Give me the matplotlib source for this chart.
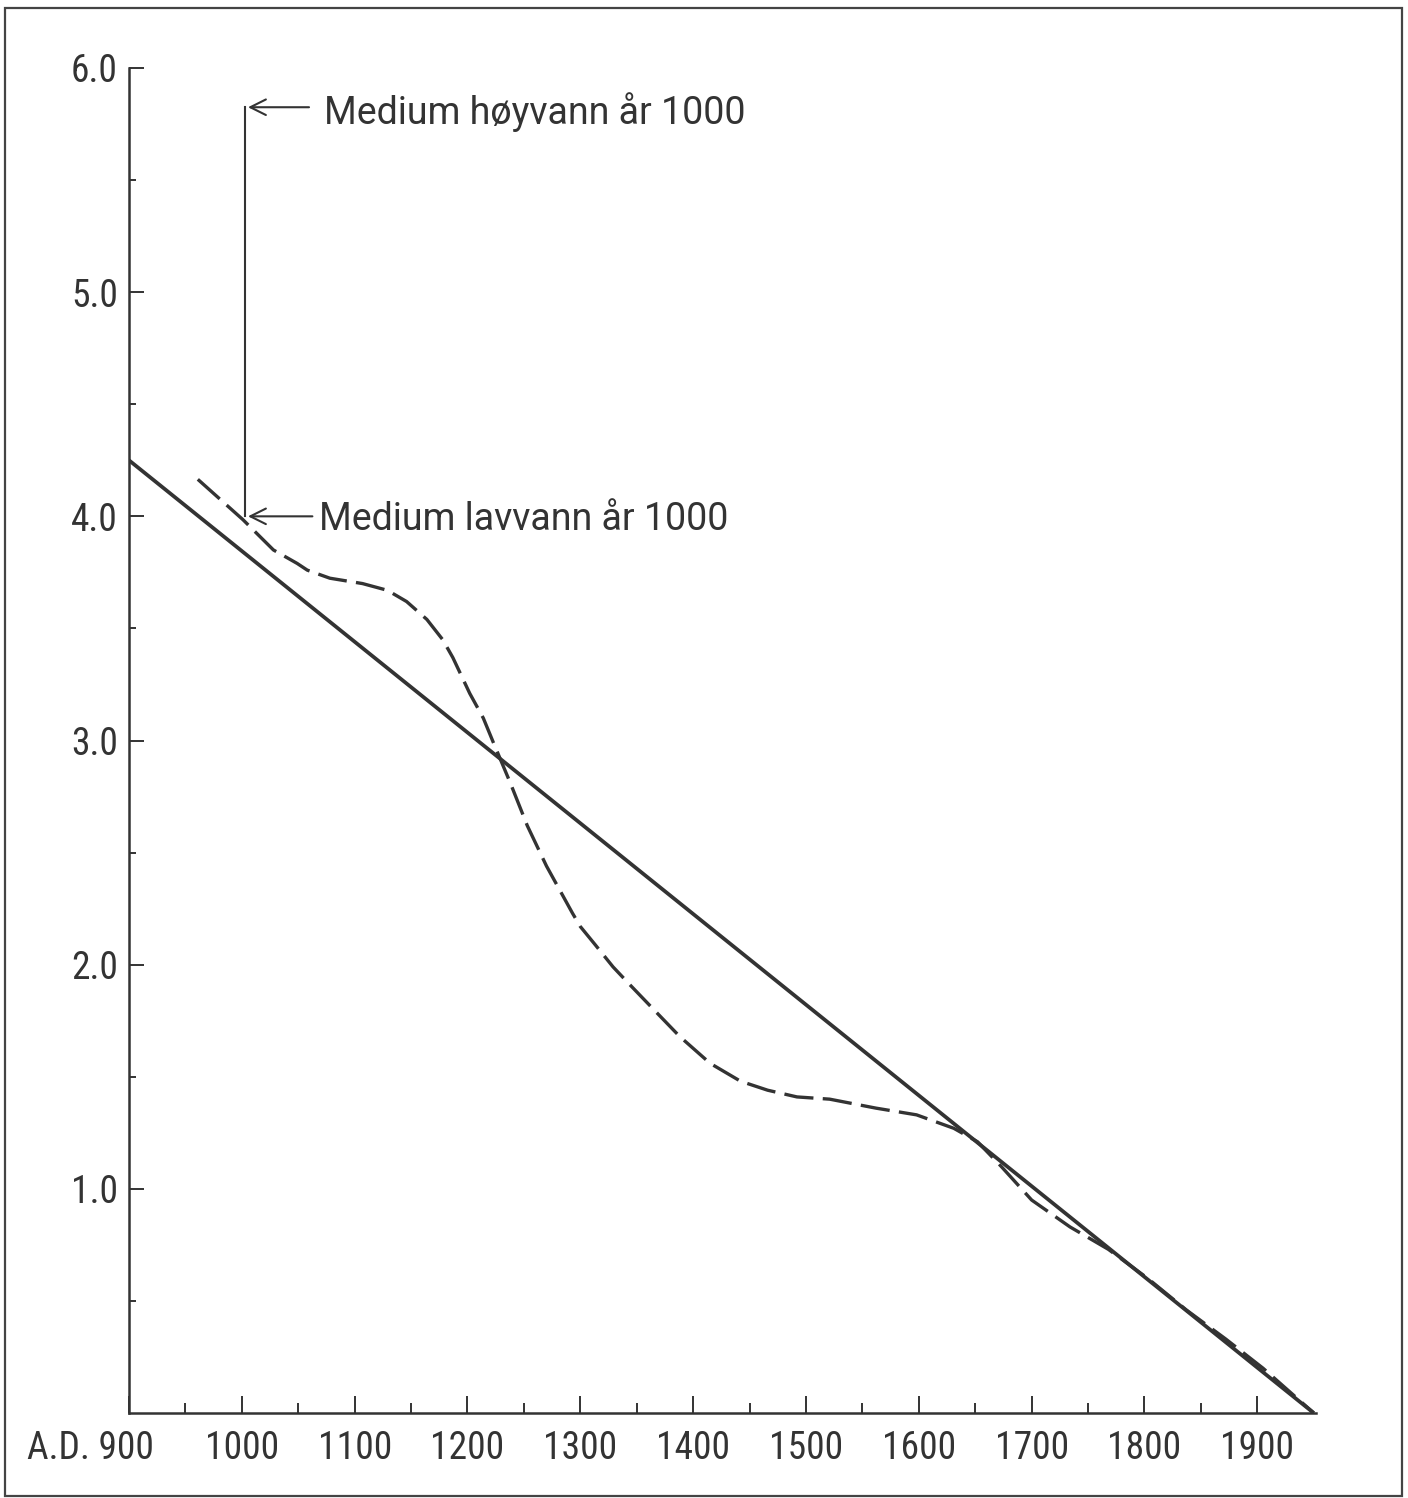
import matplotlib
matplotlib.use('Agg')
import matplotlib.pyplot as plt
import matplotlib.patches as patches

# values
trend_years = [900, 1950]
trend_level = [4.25, 0.0]

curve_years = [961, 1001, 1028, 1049, 1058, 1078, 1107, 1129, 1146, 1164, 1178,
               1187, 1202, 1214, 1223, 1238, 1253, 1270, 1293, 1300, 1313, 1329,
               1344, 1365, 1388, 1415, 1442, 1466, 1492, 1521, 1562, 1598, 1631,
               1652, 1673, 1700, 1734, 1768, 1803, 1837, 1872, 1905, 1950]
curve_level = [4.165, 3.985, 3.85, 3.79, 3.76, 3.724, 3.70, 3.67, 3.62, 3.54, 3.45,
               3.37, 3.21, 3.10, 2.99, 2.81, 2.62, 2.44, 2.23, 2.17, 2.09, 1.99,
               1.91, 1.80, 1.68, 1.56, 1.48, 1.44, 1.41, 1.40, 1.36, 1.33, 1.27,
               1.21, 1.10, 0.95, 0.83, 0.73, 0.60, 0.46, 0.33, 0.20, 0.0]

x_major = [900, 1000, 1100, 1200, 1300, 1400, 1500, 1600, 1700, 1800, 1900]
x_labels = ['', '1000', '1100', '1200', '1300', '1400', '1500', '1600', '1700', '1800', '1900']
y_major = [1.0, 2.0, 3.0, 4.0, 5.0, 6.0]
y_labels = ['1.0', '2.0', '3.0', '4.0', '5.0', '6.0']

high_water = 5.825   # medium hoyvann aar 1000
low_water = 4.0      # medium lavvann aar 1000

ink = '#333333'
fonts = ['Roboto Condensed', 'Liberation Sans Narrow', 'Roboto', 'DejaVu Sans']
note_fonts = ['Roboto', 'DejaVu Sans']

W, H = 1408, 1498
fig = plt.figure(figsize=(W / 100, H / 100), dpi=100)
fig.patch.set_facecolor('white')

# scanned frame round the figure
fig.add_artist(patches.Rectangle((5 / W, 1 - 1496 / H), (1402 - 5) / W, (1496 - 8) / H,
                                 transform=fig.transFigure, fill=False, lw=1.6, ec='#444444'))

ax = fig.add_axes([129 / W, 1 - 1413 / H, (1316 - 129) / W, (1413 - 68) / H])
ax.set_xlim(900, 1952)
ax.set_ylim(0, 6.0)
for s in ['top', 'right']:
    ax.spines[s].set_visible(False)
for s in ['left', 'bottom']:
    ax.spines[s].set_color(ink)
    ax.spines[s].set_linewidth(1.8)

ax.plot(trend_years, trend_level, color=ink, lw=2.7, solid_capstyle='butt')
ax.plot(curve_years, curve_level, color=ink, lw=2.4, dashes=(8.8, 2.8))

ax.set_xticks(x_major)
ax.set_xticklabels(x_labels)
ax.set_xticks([950 + 100 * i for i in range(10)], minor=True)
ax.set_yticks(y_major)
ax.set_yticklabels(y_labels)
ax.set_yticks([0.5 + i for i in range(6)], minor=True)

ax.tick_params(axis='x', which='major', direction='in', length=12, width=1.4, color=ink, pad=12)
ax.tick_params(axis='x', which='minor', direction='in', length=7, width=1.4, color=ink)
ax.tick_params(axis='y', which='major', direction='in', length=11, width=1.4, color=ink, pad=8)
ax.tick_params(axis='y', which='minor', direction='in', length=5, width=1.4, color=ink)
for lab in ax.get_xticklabels() + ax.get_yticklabels():
    lab.set_family(fonts)
    lab.set_fontsize(27)
    lab.set_color(ink)

ax.annotate('A.D. 900', xy=(900, 0), xytext=(18, -12), textcoords='offset points',
            ha='right', va='top', fontsize=27, color=ink, family=fonts)

# tidal range marker at year 1000
ax.plot([1003, 1003], [low_water, high_water], color=ink, lw=1.5)
ax.annotate('', xy=(1003, high_water), xytext=(1062, high_water),
            arrowprops=dict(arrowstyle='->', color=ink, lw=1.5, mutation_scale=28))
ax.annotate('', xy=(1003, low_water), xytext=(1065, low_water),
            arrowprops=dict(arrowstyle='->', color=ink, lw=1.5, mutation_scale=28))
ax.text(1073, 5.75, 'Medium høyvann år 1000', fontsize=27, color=ink,
        family=note_fonts, va='baseline')
ax.text(1068, 3.94, 'Medium lavvann år 1000', fontsize=27, color=ink,
        family=note_fonts, va='baseline')

fig.savefig('out.png', dpi=100, facecolor='white')
